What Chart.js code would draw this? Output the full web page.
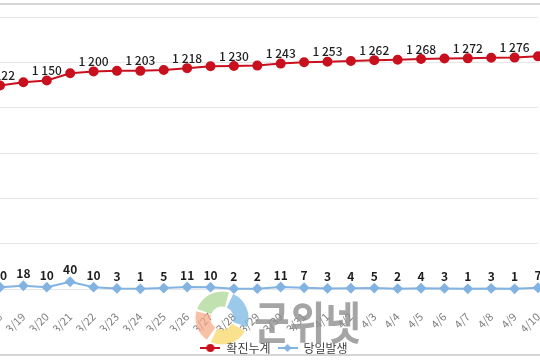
<!DOCTYPE html>
<html><head><meta charset="utf-8">
<script src="https://cdn.jsdelivr.net/npm/chart.js@4.4.1/dist/chart.umd.min.js"></script>
<style>
html,body{margin:0;padding:0;background:#fff;overflow:hidden;width:540px;height:360px;}
#frame{position:absolute;left:-10px;top:3px;width:560px;height:353px;border:2px solid #d6d6d6;box-sizing:border-box;}
#wrap{position:absolute;left:-40px;top:0;width:620px;height:360px;}
</style></head><body>
<div id="frame"></div>
<div id="wrap"><canvas id="c" width="620" height="360"></canvas></div>
<script>
const categories = ['3/18','3/19','3/20','3/21','3/22','3/23','3/24','3/25','3/26','3/27','3/28','3/29','3/30','3/31','4/1','4/2','4/3','4/4','4/5','4/6','4/7','4/8','4/9','4/10'];
const cumulative = [1122,1140,1150,1190,1200,1203,1203,1208,1218,1228,1230,1232,1243,1250,1253,1257,1262,1264,1268,1271,1272,1275,1276,1283];
const daily = [10,18,10,40,10,3,1,5,11,10,2,2,11,7,3,4,5,2,4,3,1,3,1,7];
const seriesNames = ['확진누계','당일발생'];
const yMin = 0, yMax = 1500, yStep = 250;
const watermarkText = '군위넷';

const RED = '#c8101e', BLUE = '#82b3e2';
const FONT = "'Noto Sans CJK KR', 'Noto Sans', sans-serif";

function fmt(v){ return String(v).replace(/\B(?=(\d{3})+(?!\d))/g,' '); }

function marker(color, shape){
  const c = document.createElement('canvas'); c.width = 20; c.height = 10;
  const x = c.getContext('2d');
  x.strokeStyle = color; x.lineWidth = 2;
  x.beginPath(); x.moveTo(0,5); x.lineTo(20,5); x.stroke();
  x.fillStyle = color;
  if(shape==='circle'){ x.beginPath(); x.arc(10,5,4,0,Math.PI*2); x.fill(); }
  else { x.beginPath(); x.moveTo(10,1); x.lineTo(14,5); x.lineTo(10,9); x.lineTo(6,5); x.closePath(); x.fill(); }
  return c;
}
const markers = [marker(RED,'circle'), marker(BLUE,'diamond')];

const valueLabels = {
  id:'valueLabels',
  afterDatasetsDraw(chart){
    const ctx = chart.ctx;
    chart.data.datasets.forEach((ds,di)=>{
      const meta = chart.getDatasetMeta(di);
      meta.data.forEach((pt,i)=>{
        if(di===0 && i%2) return;
        ctx.save();
        ctx.font = (di===0 ? '500 12px ' : 'bold 12px ') + FONT;
        ctx.fillStyle = '#1e1e1e';
        ctx.textAlign = 'center'; ctx.textBaseline = 'bottom';
        ctx.fillText(fmt(ds.data[i]), pt.x, pt.y - (di===0 ? 4 : 6));
        ctx.restore();
      });
    });
  }
};

const legendShift = {
  id:'legendShift',
  afterLayout(chart){ if(chart.legend){ chart.legend.left += 5; chart.legend.right += 5; chart.legend.top += 4; chart.legend.bottom += 4; } }
};

const watermark = {
  id:'watermark',
  afterDraw(chart){
    const ctx = chart.ctx, ox = 40;
    ctx.save();
    const cx = 222+ox, cy = 318, r = 19;
    ctx.globalAlpha = 0.7; ctx.lineWidth = 15; ctx.lineCap='butt';
    const arcs = [['#a6d58f',200,285],['#6fb2e0',295,20],['#f6d45c',30,115],['#f4a582',125,195]];
    arcs.forEach(a=>{ ctx.strokeStyle=a[0]; ctx.beginPath(); ctx.arc(cx,cy,r,a[1]*Math.PI/180,a[2]*Math.PI/180); ctx.stroke(); });
    ctx.globalAlpha = 0.8;
    ctx.fillStyle = '#8e8e8e';
    ctx.translate(254+ox, 340);
    ctx.scale(0.86,1);
    ctx.font = 'bold 45px ' + FONT;
    ctx.textBaseline = 'alphabetic';
    ctx.fillText(watermarkText, 0, 0);
    ctx.restore();
  }
};

new Chart(document.getElementById('c'), {
  type:'line',
  data:{
    labels: categories,
    datasets:[
      {label:seriesNames[0], data:cumulative, borderColor:RED, backgroundColor:RED, borderWidth:2,
       pointStyle:'circle', pointRadius:4, pointBackgroundColor:RED, pointBorderColor:RED, tension:0, clip:false},
      {label:seriesNames[1], data:daily, borderColor:BLUE, backgroundColor:BLUE, borderWidth:2,
       pointStyle:'rectRot', pointRadius:4, pointBackgroundColor:BLUE, pointBorderColor:BLUE, tension:0, clip:false}
    ]
  },
  options:{
    responsive:false, animation:false, devicePixelRatio:1,
    layout:{padding:{left:40, right:42, top:17, bottom:0}},
    plugins:{
      tooltip:{enabled:false},
      legend:{position:'bottom',
        labels:{usePointStyle:true, pointStyleWidth:20, padding:7, color:'#404040',
          font:{family:FONT, size:12},
          generateLabels(chart){
            return chart.data.datasets.map((ds,i)=>({text:ds.label, pointStyle:markers[i], fillStyle:ds.borderColor,
              strokeStyle:ds.borderColor, lineWidth:0, hidden:false, datasetIndex:i, fontColor:'#404040'}));
          }}}
    },
    scales:{
      x:{grid:{display:false}, border:{display:false},
         afterFit(scale){ scale.height = 42; },
         ticks:{autoSkip:false, minRotation:45, maxRotation:45, padding:13, color:'#7f7f7f', font:{family:FONT, size:11}}},
      y:{min:yMin, max:yMax, grid:{color:'#e6e6e6', drawTicks:false, lineWidth:1}, border:{display:false},
         ticks:{display:false, stepSize:yStep}}
    }
  },
  plugins:[valueLabels, legendShift, watermark]
});
</script>
</body></html>
